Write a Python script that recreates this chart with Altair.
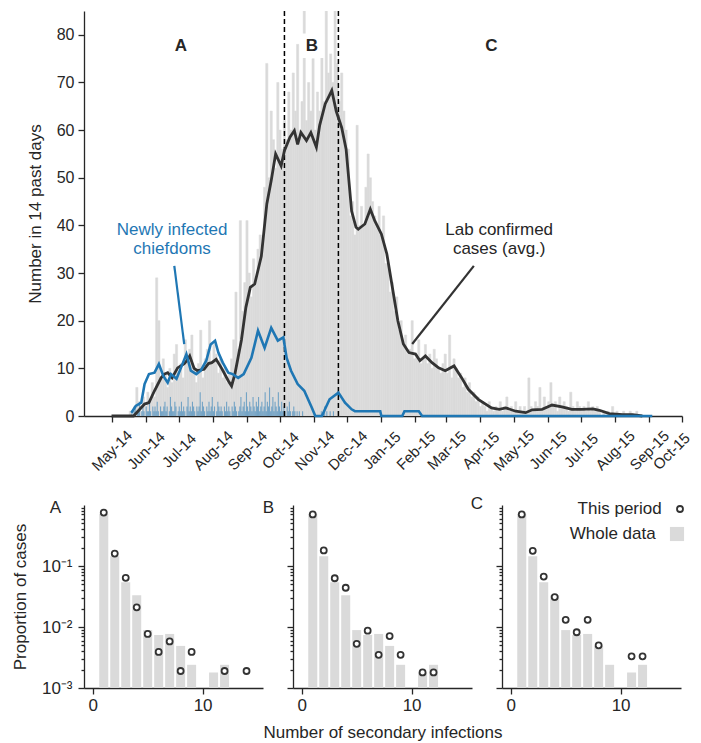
import altair as alt
import pandas as pd

BASE = pd.Timestamp("2014-05-01")

# ---- top panel data (day offsets from 1 May 2014) ----
gray_start = 16  # one bar every 2 days
gray_vals = [
    1, 0, 2, 6, 3, 1, 4, 2, 5, 3,
    7, 4, 29, 20, 8, 12, 9, 6, 10, 7,
    13, 15, 9, 11, 8, 16, 12, 14, 17, 10,
    7, 11, 18, 8, 12, 14, 20, 11, 15, 13,
    9, 12, 8, 10, 7, 9, 12, 16, 26, 14,
    41, 22, 28, 41, 30, 25, 33, 29, 35, 38,
    36, 48, 74, 50, 64, 58, 52, 70, 60, 56,
    62, 58, 68, 60, 72, 64, 78, 60, 66, 88,
    62, 70, 64, 75, 60, 68, 64, 80, 66, 88,
    72, 76, 70, 88, 74, 66, 72, 64, 60, 56,
    42, 45, 38, 61, 40, 44, 40, 48, 55, 50,
    45, 42, 40, 44, 38, 42, 32, 32, 26, 28,
    22, 25, 18, 20, 15, 17, 13, 14, 20, 12,
    13, 16, 11, 12, 15, 11, 13, 10, 14, 12,
    10, 9, 11, 13, 9, 17, 8, 12, 10, 8,
    9, 6, 8, 5, 7, 4, 5, 3, 4, 2,
    3, 2, 1, 3, 2, 1, 2, 1, 3, 1,
    2, 4, 1, 2, 1, 3, 1, 2, 1, 2,
    1, 8, 2, 1, 3, 2, 6, 1, 4, 2,
    3, 7, 2, 3, 1, 4, 2, 3, 2, 1,
    5, 2, 1, 3, 2, 1, 2, 1, 3, 1,
    2, 1, 2, 1, 0, 1, 0, 1, 0, 2,
    0, 1, 0, 0, 1, 0, 0, 1, 0, 0,
    1, 0,
]

blue_bar_start = 18  # one bar per day
blue_bar_vals = [
    1, 0, 1, 2, 0, 1, 1, 3, 0, 1, 2, 1, 0, 2, 1, 1, 3, 1, 0, 2, 1, 2, 1, 3, 1, 0, 2, 1, 1, 2,
    3, 1, 2, 0, 1, 4, 2, 1, 1, 3, 2, 0, 1, 2, 1, 3, 1, 2, 1, 0, 2, 4, 1, 2, 1, 3, 2, 1, 0, 2,
    1, 2, 5, 1, 3, 2, 1, 0, 2, 1, 3, 1, 2, 4, 1, 2, 0, 1, 3, 2, 1, 2, 1, 0, 2, 1, 3, 1, 2, 1,
    0, 2, 1, 3, 2, 1, 0, 1, 2, 4, 1, 2, 3, 1, 5, 2, 1, 3, 2, 1, 4, 2, 1, 3, 2, 4, 1, 2, 3, 1,
    2, 5, 1, 3, 2, 6, 1, 2, 4, 1, 3, 2, 1, 5, 2, 1, 3, 1, 2, 1, 0, 2, 1, 3, 1, 0, 1, 2, 1, 0,
    1, 0, 1, 0, 0, 1, 0, 0, 0, 0, 0, 0, 0, 0, 0, 0, 0, 0, 0, 0, 0, 0, 1, 0, 1, 2, 0, 1, 0, 0,
    1, 0, 0, 1,
]

black_days = [0, 20, 24, 30, 34, 39, 45, 48, 51, 55, 60, 66, 68, 71, 75, 78, 84, 88, 91, 95,
              100, 106, 109, 112, 118, 122, 126, 130, 136, 141, 145, 149, 154, 157, 162, 166,
              169, 172, 177, 181, 186, 189, 194, 200, 204, 209, 213, 218, 222, 224, 230, 235,
              239, 245, 250, 256, 260, 265, 270, 276, 280, 285, 291, 297, 303, 311, 318, 324,
              333, 345, 352, 358, 367, 376, 382, 391, 400, 409, 418, 427, 437, 443, 452, 464,
              473, 482]
black_vals = [0, 0, 1, 2.5, 2.8, 5.3, 8, 8.8, 9.1, 8, 10.1, 11, 11.5, 12.6, 10, 9.5, 9.8, 11,
              11.2, 11.9, 10, 7.4, 6.3, 8.8, 16, 22.8, 27, 27.7, 33.5, 44.5, 49.4, 55, 52.5,
              55.7, 58.5, 59.9, 57, 59.5, 57.8, 59.5, 56.4, 61, 65.5, 68.3, 64, 60.5, 56, 43,
              39.6, 39.2, 40.3, 43.4, 41, 38.2, 34, 25.6, 20, 15.1, 13.3, 13, 11.6, 12.6, 11.2,
              10.1, 9.5, 10.5, 8, 5.6, 3.5, 1.7, 1.4, 1.7, 1, 0.7, 1.3, 1.4, 2.3, 1.9, 1.4,
              1.4, 1.5, 1.2, 0.5, 0.3, 0.3, 0]

blue_days = [18, 22, 27, 30, 34, 39, 43, 47, 51, 54, 59, 63, 68, 72, 77, 81, 86, 90, 94, 97,
             101, 106, 110, 115, 120, 127, 133, 139, 145, 151, 156, 159, 163, 169, 175, 182,
             185, 191, 198, 206, 212, 218, 221, 244, 245, 264, 266, 279, 282, 491]
blue_vals = [0.7, 2.1, 2.8, 6.7, 8.8, 9.1, 10.9, 8.4, 7, 8.8, 7.8, 10.1, 13, 9.5, 8.8, 9.5,
             11.6, 15, 15.8, 13.3, 11.2, 9.1, 8.8, 8, 8.8, 12.2, 17.9, 14.3, 18.5, 15.8, 16.5,
             12.2, 9.5, 6.7, 5.3, 1.7, 0, 0, 3.5, 4.9, 2.8, 1.4, 1, 1, 0, 0, 1, 1, 0, 0]

period_bounds = ["2014-10-05", "2014-11-23"]
month_ticks = [(2014, m) for m in range(5, 13)] + [(2015, m) for m in range(1, 11)]
y_ticks_top = [0, 10, 20, 30, 40, 50, 60, 70, 80]

# ---- bottom panels data ----
whole_n = [1, 2, 3, 4, 5, 6, 7, 8, 9, 11, 12]
whole_p = [0.72, 0.145, 0.054, 0.033, 0.0089, 0.0074, 0.0077, 0.0049, 0.0024, 0.0018, 0.0024]
A_n = [1, 2, 3, 4, 5, 6, 7, 8, 9, 12, 14]
A_p = [0.75, 0.16, 0.064, 0.021, 0.0077, 0.0039, 0.0058, 0.0019, 0.0039, 0.0019, 0.0019]
B_n = [1, 2, 3, 4, 5, 6, 7, 8, 9, 11, 12]
B_p = [0.70, 0.18, 0.063, 0.044, 0.0053, 0.0087, 0.0035, 0.0071, 0.0035, 0.0018, 0.0018]
C_n = [1, 2, 3, 4, 5, 6, 7, 8, 11, 12]
C_p = [0.70, 0.177, 0.067, 0.031, 0.0131, 0.0082, 0.0131, 0.0050, 0.0033, 0.0033]

FONT = "Liberation Sans"
TXT = "#262626"
BLUE = "#1f77b4"
DARK = "#333333"
GRAY = "#dadada"


def dstr(days):
    return [(BASE + pd.Timedelta(days=int(d))).strftime("%Y-%m-%d") for d in days]


gray_days = [gray_start + 2 * i for i in range(len(gray_vals))]
gray_df = pd.DataFrame({"date": dstr(gray_days),
                        "end": dstr([d + 2 for d in gray_days]),
                        "v": gray_vals})
bb_days = [blue_bar_start + i for i in range(len(blue_bar_vals))]
bb_df = pd.DataFrame({"date": dstr(bb_days), "end": dstr([d + 1 for d in bb_days]),
                      "v": blue_bar_vals})
black_df = pd.DataFrame({"date": dstr(black_days), "v": black_vals})
blue_df = pd.DataFrame({"date": dstr(blue_days), "v": blue_vals})
rule_df = pd.DataFrame({"date": period_bounds})

LAST = "datum.value > utc(2015, 8, 15)"


def make_xaxis(conditional):
    common = dict(values=[alt.DateTime(year=y, month=m, date=1, utc=True) for y, m in month_ticks],
                  format="%b-%y", labelAngle=-45, labelFontSize=15, tickSize=6,
                  labelOverlap=False, title=None)
    if conditional:
        return alt.Axis(
            labelAlign={"condition": {"test": LAST, "value": "right"}, "value": "center"},
            labelBaseline={"condition": {"test": LAST, "value": "top"}, "value": "middle"},
            labelPadding={"condition": {"test": LAST, "value": 8}, "value": 28},
            **common)
    return alt.Axis(labelAlign="right", labelBaseline="top", labelPadding=3, **common)


def build(conditional):
    xscale = alt.Scale(type="utc", domain=[alt.DateTime(year=2014, month=4, date=6, utc=True),
                                           alt.DateTime(year=2015, month=10, date=1, utc=True)])
    yscale = alt.Scale(domain=[0, 85], nice=False)
    yaxis = alt.Axis(values=y_ticks_top, title="Number in 14 past days", labelFontSize=16,
                     tickSize=6, labelPadding=4, titleX=-49, titleY=202.5,
                     titleBaseline="middle", titleFontSize=17)

    X = alt.X("date:T", scale=xscale, axis=make_xaxis(conditional), title=None)
    Y = alt.Y("v:Q", scale=yscale, axis=yaxis, title="Number in 14 past days")

    gray = alt.Chart(gray_df).mark_bar(color=GRAY, stroke=GRAY, strokeWidth=0.5, clip=True).encode(
        x=X, x2="end:T", y=Y, y2=alt.datum(0))
    bblue = alt.Chart(bb_df).mark_bar(color=BLUE, opacity=0.55, clip=True).encode(
        x=X, x2="end:T", y=Y, y2=alt.datum(0))
    rules = alt.Chart(rule_df).mark_rule(color="black", strokeDash=[5, 3], strokeWidth=1.5).encode(x=X)
    black_line = alt.Chart(black_df).mark_line(color=DARK, strokeWidth=2.8).encode(x=X, y=Y)
    blue_line = alt.Chart(blue_df).mark_line(color=BLUE, strokeWidth=2.6).encode(x=X, y=Y)

    abc_df = pd.DataFrame({"date": dstr([63, 182, 345]), "v": [77.7, 77.7, 77.7],
                           "t": ["A", "B", "C"]})
    box = alt.Chart(abc_df[abc_df.t == "B"]).mark_point(
        shape="square", filled=True, color="white", opacity=1, size=600).encode(x=X, y=Y)
    abc = alt.Chart(abc_df).mark_text(fontSize=17, fontWeight="bold", color=TXT,
                                      baseline="middle").encode(x=X, y=Y, text="t:N")

    ann_blue = pd.DataFrame({"date": dstr([55, 55]), "v": [39, 35.1],
                             "t": ["Newly infected", "chiefdoms"]})
    ann_black = pd.DataFrame({"date": dstr([352, 352]), "v": [39, 35.1],
                              "t": ["Lab confirmed", "cases (avg.)"]})
    t_blue = alt.Chart(ann_blue).mark_text(fontSize=17, color=BLUE, baseline="middle").encode(
        x=X, y=Y, text="t:N")
    t_black = alt.Chart(ann_black).mark_text(fontSize=17, color=TXT, baseline="middle").encode(
        x=X, y=Y, text="t:N")
    ptr_blue = pd.DataFrame({"date": dstr([57, 66]), "v": [31.5, 15.1]})
    ptr_black = pd.DataFrame({"date": dstr([329, 273]), "v": [31.5, 15.1]})
    p_blue = alt.Chart(ptr_blue).mark_line(color=BLUE, strokeWidth=2.2).encode(x=X, y=Y)
    p_black = alt.Chart(ptr_black).mark_line(color=DARK, strokeWidth=2.2).encode(x=X, y=Y)

    top = alt.layer(gray, bblue, rules, black_line, blue_line, box, abc, t_blue, t_black,
                    p_blue, p_black).properties(width=598, height=405)

    minor = [k * 10.0 ** e for e in (-3, -2, -1) for k in range(2, 10)]
    sup_expr = ("datum.value < 0.005 ? '10\u207b\u00b3' : datum.value < 0.05 ? "
                "'10\u207b\u00b2' : '10\u207b\u00b9'")

    def panel(label, n, p, first, with_xtitle, with_legend):
        whole = pd.DataFrame({"n": whole_n, "p": whole_p, "series": "Whole data"})
        whole["lo"] = whole["n"] - 0.41
        whole["hi"] = whole["n"] + 0.41
        per = pd.DataFrame({"n": n, "p": p, "series": "This period"})
        xs = alt.Scale(domain=[-0.8, 15.5], nice=False, zero=False)
        ys = alt.Scale(type="log", domain=[0.001, 1], nice=False)
        xax = alt.Axis(values=[0, 10], labelFontSize=17, tickSize=6, labelPadding=3,
                       title="Number of secondary infections" if with_xtitle else None,
                       titleFontSize=17, titleY=44, titleBaseline="middle")
        ymaj = alt.Axis(values=[0.001, 0.01, 0.1], labels=first, labelExpr=sup_expr,
                        labelFontSize=17, tickSize=6, labelPadding=6,
                        title="Proportion of cases" if first else None, titleFontSize=17,
                        titleX=-64, titleY=91.5, titleBaseline="middle", orient="left")
        ymin = alt.Axis(values=minor, labels=False, tickSize=3, domain=False, title=None,
                        orient="left")
        if with_legend:
            fill = alt.Fill("series:N", scale=alt.Scale(domain=["Whole data"], range=[GRAY]),
                            legend=alt.Legend(orient="none", legendX=166.5, legendY=20.5,
                                              title=None, labelAlign="right",
                                              labelOffset={"expr": "-29.8"},
                                              symbolType="square", symbolSize=200,
                                              symbolStrokeWidth=0, labelFontSize=17,
                                              labelColor=TXT, padding=0))
            stroke = alt.Stroke("series:N", scale=alt.Scale(domain=["This period"], range=[DARK]),
                                legend=alt.Legend(orient="none", legendX=169.5, legendY=-4.5,
                                                  title=None, labelAlign="right",
                                                  labelOffset={"expr": "-26.8"},
                                                  symbolType="circle", symbolSize=36,
                                                  symbolStrokeWidth=1.8, symbolFillColor="white",
                                                  labelFontSize=17, labelColor=TXT, padding=0))
        else:
            fill = alt.value(GRAY)
            stroke = alt.value(DARK)
        bars = alt.Chart(whole).mark_bar().encode(
            x=alt.X("lo:Q", scale=xs, axis=xax, title=None), x2="hi:Q",
            y=alt.Y("p:Q", scale=ys, axis=ymaj, title=None), y2=alt.datum(0.001), fill=fill)
        pts = alt.Chart(per).mark_point(shape="circle", filled=True, fill="white", size=36,
                                        strokeWidth=1.8, opacity=1).encode(
            x=alt.X("n:Q", scale=xs, axis=xax, title=None),
            y=alt.Y("p:Q", scale=ys, axis=ymin, title=None), stroke=stroke)
        return alt.layer(bars, pts).resolve_axis(y="independent").properties(
            width=179, height=183,
            title=alt.TitleParams(label, anchor="start", align="right",
                                  dx=-23 if first else -19, dy=25, offset=0,
                                  baseline="alphabetic", fontSize=17, fontWeight="normal",
                                  color=TXT, frame="group"))

    pA = panel("A", A_n, A_p, True, False, False)
    pB = panel("B", B_n, B_p, False, True, False)
    pC = panel("C", C_n, C_p, False, False, True)

    bottom = alt.hconcat(pA, pB, pC, spacing=30, bounds="flush").resolve_scale(
        fill="independent", stroke="independent")

    return alt.vconcat(top, bottom, spacing=89, bounds="flush").properties(
        padding={"left": 2, "top": 2, "right": 0, "bottom": 5}
    ).configure(font=FONT).configure_view(stroke=None).configure_axis(
        grid=False, domainColor=TXT, tickColor=TXT, labelColor=TXT, titleColor=TXT,
        labelFont=FONT, titleFont=FONT, titleFontWeight="normal", domainWidth=1.3, tickWidth=1.3
    ).configure_text(font=FONT).configure_title(font=FONT)


try:
    chart = build(True)
    chart.to_dict()
except Exception:
    chart = build(False)

chart.save("out.html", embed_options={"renderer": "svg", "actions": False})
